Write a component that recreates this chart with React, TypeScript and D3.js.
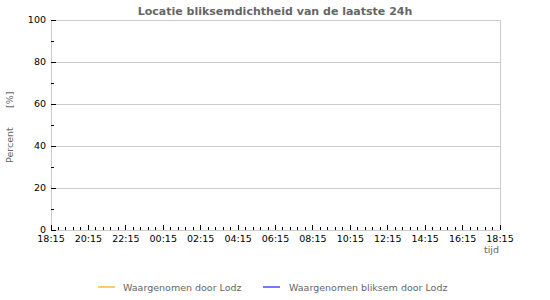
import React from "react";
import * as d3 from "d3";

const title = "Locatie bliksemdichtheid van de laatste 24h";
const yLabelParts = ["Percent", "[%]"];
const xLabel = "tijd";
const startTime = new Date(2024, 0, 1, 18, 15);
const endTime = new Date(2024, 0, 2, 18, 15);
const xTickLabels = ["18:15", "20:15", "22:15", "00:15", "02:15", "04:15", "06:15", "08:15", "10:15", "12:15", "14:15", "16:15", "18:15"];
const yTicks = [0, 20, 40, 60, 80, 100];
const yMinorTicks = [10, 30, 50, 70, 90];
const seriesNames = ["Waargenomen door Lodz", "Waargenomen bliksem door Lodz"];
const seriesColors = ["#ffcc66", "#7777ff"];
const timesLodz: Date[] = [];
const valuesLodz: number[] = [];
const valuesBliksem: number[] = [];

const W = 550, H = 300;
const m = { left: 51, right: 50, top: 20, bottom: 70 };

export default function App() {
  const x = d3.scaleTime().domain([startTime, endTime]).range([m.left, W - m.right]);
  const y = d3.scaleLinear().domain([0, 100]).range([H - m.bottom, m.top]);
  const majorTimes = xTickLabels.map((_, i) => d3.timeHour.offset(startTime, i * 2));
  const minorTimes = d3.range(0, 61).map((i) => d3.timeMinute.offset(startTime, i * 24)).filter((_, i) => i % 5 !== 0);
  const line = d3.line<number>().x((_, i) => x(timesLodz[i])).y((d) => y(d));
  const font = "DejaVu Sans, sans-serif";
  const x0 = m.left, x1 = W - m.right, yb = y(0), yt = y(100);
  return (
    <div style={{ position: "fixed", left: 0, top: 0 }}>
      <svg width={W} height={H} style={{ display: "block", background: "#fff" }} fontFamily={font}>
        <text x={W / 2} y={15} textAnchor="middle" fontSize={11} fontWeight="bold" fill="#666">{title}</text>
        {yTicks.map((t) => (
          <line key={"g" + t} x1={x0} x2={x1} y1={y(t)} y2={y(t)} stroke="#cccccc" strokeWidth={1} shapeRendering="crispEdges" />
        ))}
        <line x1={x0} x2={x0} y1={yt} y2={yb} stroke="#cccccc" shapeRendering="crispEdges" />
        <line x1={x1} x2={x1} y1={yt} y2={yb} stroke="#cccccc" shapeRendering="crispEdges" />
        {yTicks.map((t) => (
          <g key={"yt" + t}>
            <line x1={x0} x2={x0 + 5} y1={y(t)} y2={y(t)} stroke="#000" shapeRendering="crispEdges" />
            <text x={46} y={y(t)} dy="0.35em" textAnchor="end" fontSize={9.5} fill="#000">{t}</text>
          </g>
        ))}
        {yMinorTicks.map((t) => (
          <line key={"ym" + t} x1={x0} x2={x0 + 3} y1={y(t)} y2={y(t)} stroke="#000" shapeRendering="crispEdges" />
        ))}
        {majorTimes.map((t, i) => (
          <g key={"xt" + i}>
            <line x1={x(t)} x2={x(t)} y1={yb} y2={yb - 5} stroke="#000" shapeRendering="crispEdges" />
            <text x={x(t)} y={yb + 12} textAnchor="middle" fontSize={9.5} fill="#000">{xTickLabels[i]}</text>
          </g>
        ))}
        {minorTimes.map((t, i) => (
          <line key={"xm" + i} x1={x(t)} x2={x(t)} y1={yb} y2={yb - 3} stroke="#000" shapeRendering="crispEdges" />
        ))}
        <text x={x1 - 1} y={253} textAnchor="end" fontSize={9.5} fill="#666">{xLabel}</text>
        <text transform={`translate(13, 163) rotate(-90)`} fontSize={9.5} fill="#666">
          <tspan x={0}>{yLabelParts[0]}</tspan>
          <tspan x={55}>{yLabelParts[1]}</tspan>
        </text>
        {timesLodz.length > 0 && <path d={line(valuesLodz) || ""} fill="none" stroke={seriesColors[0]} />}
        {timesLodz.length > 0 && <path d={line(valuesBliksem) || ""} fill="none" stroke={seriesColors[1]} />}
        <line x1={98} x2={115} y1={287} y2={287} stroke={seriesColors[0]} strokeWidth={2} />
        <text x={123} y={291} fontSize={9.5} fill="#666">{seriesNames[0]}</text>
        <line x1={263} x2={280} y1={287} y2={287} stroke={seriesColors[1]} strokeWidth={2} />
        <text x={289} y={291} fontSize={9.5} fill="#666">{seriesNames[1]}</text>
      </svg>
    </div>
  );
}
